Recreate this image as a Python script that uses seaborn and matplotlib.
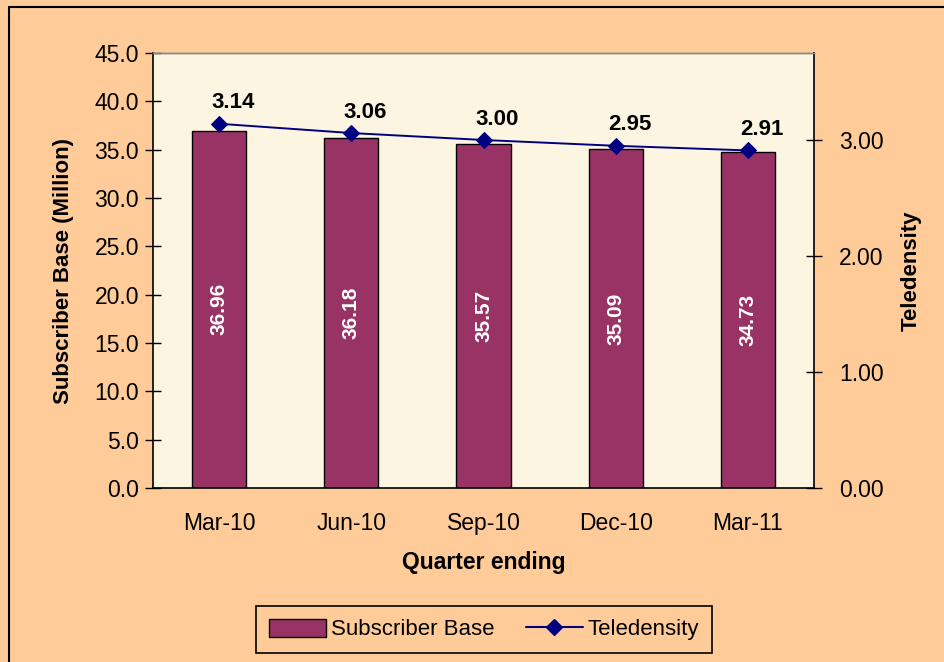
import numpy as np
import pandas as pd
import matplotlib
matplotlib.use("Agg")
import matplotlib.pyplot as plt
from matplotlib.patches import Patch
from matplotlib.lines import Line2D
import seaborn as sns

quarters = ["Mar-10", "Jun-10", "Sep-10", "Dec-10", "Mar-11"]
subscriber_base = [36.96, 36.18, 35.57, 35.09, 34.73]
teledensity = [3.14, 3.06, 3.00, 2.95, 2.91]

BAR = "#993366"
LINE = "#000080"
FIG_BG = "#FFCC99"
AX_BG = "#FCF5E1"

sns.set_theme(style="white")
plt.rcParams["font.family"] = ["Liberation Sans", "DejaVu Sans"]
plt.rcParams.update({"text.color": "black", "axes.labelcolor": "black",
                     "xtick.color": "black", "ytick.color": "black"})

df = pd.DataFrame({"Quarter": quarters, "Subscriber Base": subscriber_base,
                   "Teledensity": teledensity})

fig = plt.figure(figsize=(9.44, 6.62), dpi=100, facecolor=FIG_BG)
ax = fig.add_axes([153/944, 1-488/662, (814-153)/944, (488-53)/662])
ax.set_facecolor(AX_BG)

sns.barplot(data=df, x="Quarter", y="Subscriber Base", ax=ax, color=BAR,
            saturation=1, width=0.41, edgecolor="black", linewidth=1.0, order=quarters)
ax.set_ylim(0, 45)
ax.set_xlim(-0.5, len(quarters) - 0.5)
ax.set_yticks(np.arange(0, 46, 5))
ax.set_yticklabels([f"{v:.1f}" for v in np.arange(0, 46, 5)], fontsize=16.5)
ax.set_xticks(np.arange(len(quarters)))
ax.set_xticklabels(quarters, fontsize=16.5)
ax.tick_params(axis="x", which="major", length=0, pad=17)
ax.set_xticks(np.arange(-0.5, len(quarters)), minor=True)
ax.tick_params(axis="x", which="minor", direction="inout", length=10, width=1, color="black")
ax.tick_params(axis="y", direction="inout", length=12, width=1, color="black", pad=4)
ax.set_ylabel("Subscriber Base (Million)", fontsize=16, fontweight="bold", labelpad=15)
ax.set_xlabel("Quarter ending", fontsize=16.5, fontweight="bold", labelpad=12)

for i, v in enumerate(subscriber_base):
    ax.text(i, v / 2, f"{v:.2f}", rotation=90, ha="center", va="center",
            color="white", fontsize=15, fontweight="bold")

ax2 = ax.twinx()
sns.lineplot(data=df, x="Quarter", y="Teledensity", ax=ax2, color=LINE, sort=False,
             marker="D", markersize=8, markeredgecolor=LINE, linewidth=1.4)
ax2.set_ylim(0, 3.75)
ax2.set_yticks([0, 1, 2, 3])
ax2.set_yticklabels([f"{v:.2f}" for v in [0, 1, 2, 3]], fontsize=16.5)
ax2.tick_params(axis="y", direction="inout", length=12, width=1, color="black", pad=12)
ax2.set_ylabel("Teledensity", fontsize=16, fontweight="bold", labelpad=12)
ax2.set_xlim(-0.5, len(quarters) - 0.5)

for i, v in enumerate(teledensity):
    ax2.annotate(f"{v:.2f}", (i, v), xytext=(10, 15), textcoords="offset points",
                 ha="center", va="center", fontsize=16, fontweight="bold", color="black")

for a in (ax, ax2):
    for s in ("left", "bottom", "right"):
        a.spines[s].set_color("black")
        a.spines[s].set_linewidth(1.2)
    a.spines["top"].set_color("#888888")
    a.spines["top"].set_linewidth(1.0)
ax.spines["right"].set_visible(False)
ax2.spines["left"].set_visible(False)
ax2.spines["bottom"].set_visible(False)

handles = [Patch(facecolor=BAR, edgecolor="black", linewidth=1.0),
           Line2D([0], [0], color=LINE, marker="D", markersize=8, linewidth=1.5)]
leg = fig.legend(handles, ["Subscriber Base", "Teledensity"], loc="center",
                 bbox_to_anchor=(484/944, 1-629.5/662), ncol=2, fontsize=16,
                 frameon=True, fancybox=False, framealpha=1, facecolor=FIG_BG,
                 edgecolor="black", handlelength=2.6, handleheight=0.9, handletextpad=0.2,
                 columnspacing=1.4, borderpad=0.55, borderaxespad=0)
leg.get_frame().set_linewidth(1.2)

fig.add_artist(Line2D([9/944, 9/944], [0, 1-7/662], transform=fig.transFigure,
                      color="black", linewidth=1.5))
fig.add_artist(Line2D([9/944, 1], [1-7/662, 1-7/662], transform=fig.transFigure,
                      color="black", linewidth=1.5))

fig.savefig("out.png", dpi=100, facecolor=FIG_BG)
